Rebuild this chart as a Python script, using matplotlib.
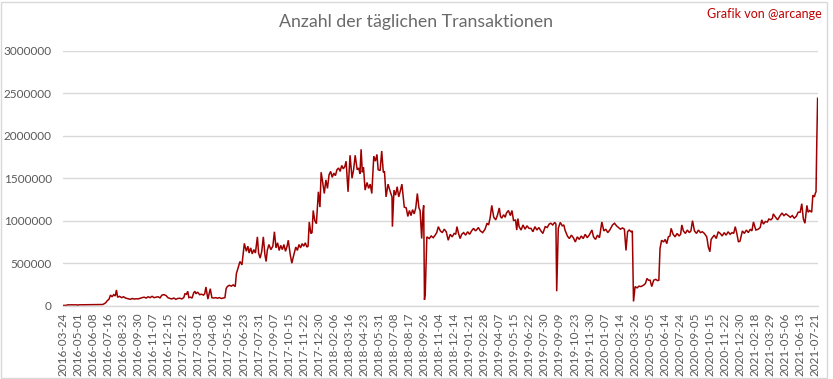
import matplotlib
matplotlib.use("Agg")
import matplotlib.pyplot as plt
from matplotlib.patches import Rectangle
import numpy as np

tick_labels = ["2016-03-24", "2016-05-01", "2016-06-08", "2016-07-16", "2016-08-23", "2016-09-30",
               "2016-11-07", "2016-12-15", "2017-01-22", "2017-03-01", "2017-04-08", "2017-05-16",
               "2017-06-23", "2017-07-31", "2017-09-07", "2017-10-15", "2017-11-22", "2017-12-30",
               "2018-02-06", "2018-03-16", "2018-04-23", "2018-05-31", "2018-07-08", "2018-08-17",
               "2018-09-26", "2018-11-04", "2018-12-14", "2019-01-21", "2019-02-28", "2019-04-07",
               "2019-05-15", "2019-06-22", "2019-07-30", "2019-09-09", "2019-10-23", "2019-11-30",
               "2020-01-07", "2020-02-14", "2020-03-26", "2020-05-05", "2020-06-14", "2020-07-24",
               "2020-09-05", "2020-10-15", "2020-11-22", "2020-12-30", "2021-02-18", "2021-03-29",
               "2021-05-06", "2021-06-13", "2021-07-21"]
label_every = 38      # one label every 38 categories (days)
n_days = 1907         # last category index

# category (day) index of each read sample
day = [0, 8, 12, 35, 37, 39, 60, 85, 100, 103, 108, 112, 116, 120, 124, 128, 132, 135, 138, 143, 148, 153, 158,
       162, 166, 170, 175, 180, 185, 190, 195, 200, 205, 210, 215, 220, 225, 230, 235, 240, 245, 250, 255, 260,
       265, 270, 275, 280, 285, 290, 295, 300, 305, 308, 312, 315, 318, 322, 326, 330, 333, 336, 340, 345, 350,
       355, 358, 361, 366, 372, 376, 381, 386, 390, 395, 400, 405, 409, 412, 415, 420, 425, 430, 435, 438, 442,
       447, 452, 458, 463, 467, 470, 474, 478, 482, 486, 491, 494, 498, 502, 506, 510, 513, 516, 520, 525, 530,
       534, 538, 542, 546, 550, 554, 558, 562, 566, 569, 574, 578, 582, 588, 592, 596, 600, 604, 608, 612, 616,
       619, 622, 626, 629, 632, 636, 640, 645, 649, 652, 656, 660, 664, 668, 672, 676, 680, 684, 688, 692, 696,
       700, 704, 708, 712, 715, 720, 725, 730, 734, 738, 743, 747, 750, 753, 756, 759, 763, 768, 772, 776, 780,
       785, 789, 793, 796, 801, 805, 809, 812, 816, 821, 826, 831, 832, 836, 840, 844, 848, 852, 856, 859, 862,
       867, 871, 875, 879, 883, 887, 891, 895, 899, 902, 906, 909, 911, 913, 915, 919, 925, 930, 935, 940, 944,
       948, 953, 958, 963, 968, 973, 978, 983, 988, 992, 995, 999, 1003, 1007, 1012, 1017, 1022, 1027, 1032,
       1037, 1042, 1046, 1049, 1054, 1060, 1066, 1071, 1075, 1079, 1083, 1088, 1093, 1097, 1102, 1105, 1108,
       1113, 1117, 1120, 1125, 1130, 1134, 1138, 1143, 1146, 1149, 1152, 1157, 1162, 1167, 1172, 1177, 1182,
       1187, 1192, 1197, 1202, 1207, 1212, 1218, 1223, 1228, 1232, 1237, 1242, 1245, 1247, 1251, 1256, 1261,
       1265, 1268, 1274, 1279, 1284, 1289, 1294, 1299, 1304, 1309, 1314, 1319, 1324, 1329, 1336, 1340, 1345,
       1350, 1355, 1361, 1366, 1371, 1376, 1381, 1388, 1393, 1398, 1403, 1408, 1413, 1418, 1422, 1426, 1430,
       1435, 1438, 1441, 1445, 1450, 1455, 1460, 1466, 1471, 1475, 1479, 1483, 1487, 1492, 1497, 1502, 1505,
       1508, 1512, 1517, 1521, 1525, 1529, 1533, 1536, 1541, 1546, 1551, 1556, 1560, 1563, 1567, 1572, 1577,
       1582, 1586, 1590, 1595, 1600, 1605, 1610, 1615, 1620, 1626, 1630, 1634, 1637, 1640, 1645, 1650, 1655,
       1660, 1665, 1670, 1675, 1680, 1685, 1690, 1694, 1698, 1702, 1706, 1710, 1716, 1721, 1726, 1731, 1736,
       1740, 1744, 1750, 1756, 1761, 1765, 1769, 1774, 1779, 1783, 1788, 1792, 1794, 1800, 1805, 1810, 1816,
       1821, 1826, 1832, 1837, 1842, 1847, 1852, 1857, 1862, 1866, 1870, 1874, 1879, 1882, 1886, 1891, 1894,
       1898, 1900, 1902, 1904, 1906]

# daily transactions, in thousands
tx_k = [3, 4, 10, 10, 3, 10, 11, 12, 14, 20, 35, 60, 75, 125, 105, 130, 115, 185, 100, 110, 95, 105, 90,
        85, 80, 75, 85, 78, 82, 80, 88, 95, 100, 90, 105, 95, 110, 95, 100, 105, 92, 125, 130, 120,
        95, 85, 80, 90, 75, 85, 88, 80, 95, 140, 135, 170, 95, 100, 90, 150, 170, 140, 160, 130, 135,
        125, 140, 220, 78, 200, 95, 90, 95, 88, 95, 85, 90, 95, 200, 225, 240, 230, 245, 225, 380, 440,
        520, 480, 733, 640, 700, 620, 680, 610, 660, 620, 810, 620, 560, 640, 810, 600, 520, 650, 720, 660, 700,
        870, 680, 740, 650, 710, 660, 720, 640, 700, 770, 600, 500, 580, 690, 650, 720, 680, 730, 700, 740, 690,
        700, 985, 850, 860, 1120, 1000, 965, 1340, 1160, 1570, 1450, 1320, 1480, 1380, 1540, 1580, 1510, 1560, 1530, 1600, 1620,
        1580, 1650, 1610, 1640, 1700, 1340, 1770, 1500, 1600, 1770, 1600, 1620, 1550, 1840, 1570, 1630, 1360, 1450, 1380, 1430, 1320,
        1760, 1700, 1780, 1600, 1590, 1820, 1570, 1580, 1280, 1430, 1350, 1280, 930, 1360, 1300, 1400, 1280, 1350, 1430, 1300, 1160,
        1150, 1050, 1120, 1060, 1130, 1080, 1150, 1320, 1150, 1120, 790, 1100, 1180, 70, 150, 810, 790, 820, 800, 830, 860,
        930, 880, 860, 900, 870, 770, 840, 810, 850, 840, 930, 850, 790, 840, 860, 830, 870, 840, 880,
        910, 880, 900, 920, 880, 860, 900, 970, 950, 1040, 1180, 1040, 1010, 1060, 1150, 1050, 1030,
        1070, 1040, 1090, 1120, 1060, 1120, 1000, 1010, 890, 1025, 930, 890, 950, 900, 940, 910, 910,
        870, 930, 890, 920, 880, 850, 930, 920, 960, 970, 950, 980, 960, 170, 910, 980, 940,
        950, 890, 820, 790, 830, 800, 750, 810, 780, 820, 790, 840, 800, 830, 890, 810, 780,
        830, 800, 985, 880, 900, 860, 890, 950, 970, 940, 920, 900, 915, 900, 650, 870, 890,
        870, 880, 50, 225, 210, 230, 225, 240, 260, 320, 300, 300, 225, 300, 310, 295, 300,
        675, 770, 750, 780, 730, 810, 820, 910, 840, 810, 850, 820, 840, 950, 880, 850, 890,
        860, 880, 1000, 880, 850, 890, 860, 870, 850, 810, 690, 635, 780, 800, 830, 790, 870,
        850, 820, 860, 830, 870, 840, 860, 850, 930, 850, 750, 760, 880, 850, 890, 860, 900,
        880, 985, 890, 900, 920, 1010, 960, 990, 985, 1020, 1010, 1030, 1080, 1040, 1010, 1050, 1090,
        1060, 1080, 1060, 1040, 1060, 1030, 1050, 1100, 1100, 1200, 1020, 970, 1180, 1100, 1120, 1100, 1300,
        1280, 1320, 1340, 1940, 2440]

y_ticks = [0, 500000, 1000000, 1500000, 2000000, 2500000, 3000000]
title = "Anzahl der täglichen Transaktionen"
credit = "Grafik von @arcange"

W, H = 833, 379
fig = plt.figure(figsize=(W / 100, H / 100), dpi=100)
ax = fig.add_axes([63 / W, (H - 305.7) / H, (818 - 63) / W, (305.7 - 50.7) / H])

values = np.array(tx_k) * 1000
ax.plot(day, values, color="#9E0000", lw=1.1, solid_joinstyle="miter")

ax.set_xlim(0, n_days)
ax.set_ylim(0, 3000000)
ax.set_yticks(y_ticks)
ax.set_yticklabels([str(v) for v in y_ticks])
ax.set_xticks([i * label_every for i in range(len(tick_labels))])
ax.set_xticklabels(tick_labels, rotation=90)
ax.grid(axis="y", color="#D9D9D9", lw=1.0)
ax.set_axisbelow(True)
for s in ["left", "right", "top"]:
    ax.spines[s].set_visible(False)
ax.spines["bottom"].set_color("#D9D9D9")
ax.spines["bottom"].set_linewidth(1.0)
ax.tick_params(axis="both", length=0, colors="#595959", labelsize=8.5)
ax.tick_params(axis="y", pad=8)
ax.tick_params(axis="x", pad=5)
for lab in ax.get_xticklabels() + ax.get_yticklabels():
    lab.set_family("Lato")

fig.text(416 / W, 1 - 22 / H, title, ha="center", va="center", fontsize=12.8,
         color="#6A6A6A", family="Lato", weight="normal")
fig.text(822 / W, 1 - 14 / H, credit, ha="right", va="center", fontsize=9,
         color="#C00000", family="Lato")

fig.add_artist(Rectangle((0.5 / W, 1.5 / H), 826 / W, (H - 3) / H, transform=fig.transFigure,
                         fill=False, edgecolor="#D9D9D9", lw=1.0))

fig.savefig("out.png", dpi=100)
